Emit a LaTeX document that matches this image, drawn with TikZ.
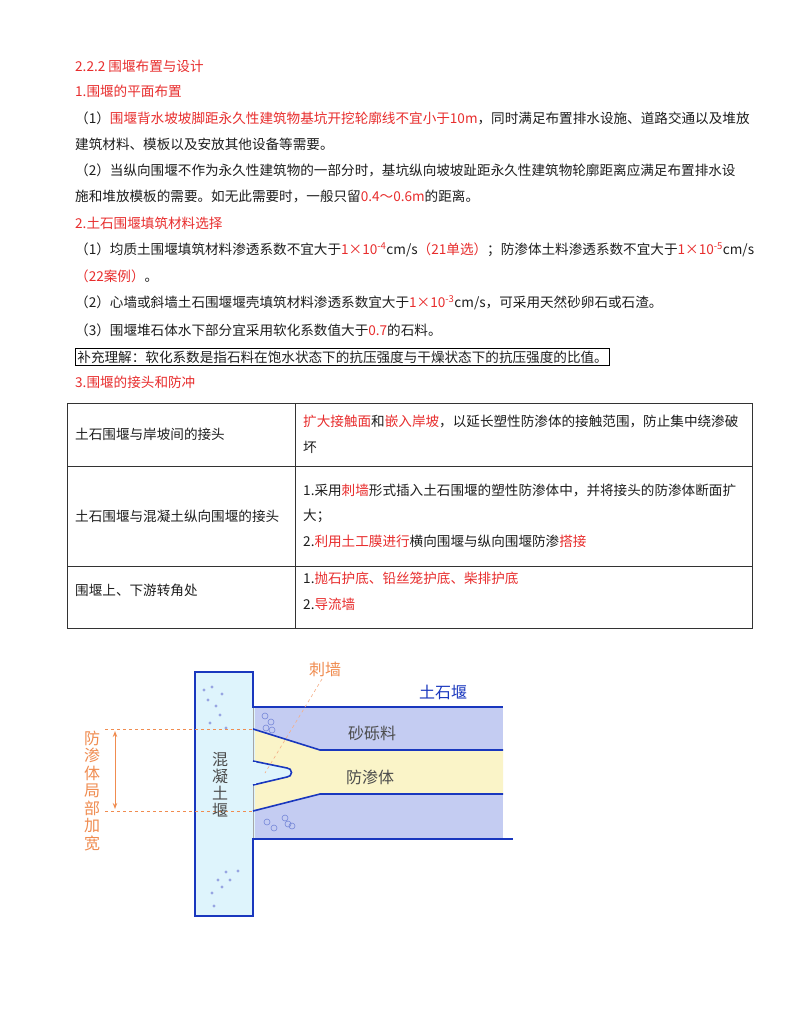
\documentclass[tikz,border=0pt]{standalone}
\usepackage{fontspec}
\setmainfont{Noto Sans CJK SC}
\usetikzlibrary{arrows.meta}
\definecolor{rd}{RGB}{232,45,45}
\definecolor{dblue}{RGB}{25,55,190}
\definecolor{sandc}{RGB}{196,204,242}
\definecolor{impc}{RGB}{250,244,200}
\definecolor{wallc}{RGB}{222,244,252}
\definecolor{orng}{RGB}{240,140,80}
\definecolor{txt}{RGB}{30,30,30}
\newcommand{\rr}[1]{\textcolor{rd}{#1}}
\begin{document}
\begin{tikzpicture}[x=1pt,y=-1pt,
  ln/.style={anchor=west,inner sep=0pt,font=\fontsize{13.6}{15}\selectfont,text=txt},
  cell/.style={anchor=west,inner sep=0pt,font=\fontsize{13.6}{15}\selectfont,text=txt},
  edge/.style={draw=dblue,line width=1.6pt},
  odash/.style={draw=orng,dashed,line width=0.6pt},
  bub/.style={draw=dblue!60,line width=0.6pt}]
\useasboundingbox (0,0) rectangle (800,1035);
\fill[white] (0,0) rectangle (800,1035);
% text
\node[ln] (t0) at (75,66) {\rr{2.2.2 围堰布置与设计}};
\node[ln] (t1) at (75,91) {\rr{1.围堰的平面布置}};
\node[ln] (t2) at (75,118) {（1）\rr{围堰背水坡坡脚距永久性建筑物基坑开挖轮廓线不宜小于10m}，同时满足布置排水设施、道路交通以及堆放};
\node[ln] (t3) at (75,144) {建筑材料、模板以及安放其他设备等需要。};
\node[ln] (t4) at (75,170) {（2）当纵向围堰不作为永久性建筑物的一部分时，基坑纵向坡坡趾距永久性建筑物轮廓距离应满足布置排水设};
\node[ln] (t5) at (75,196) {施和堆放模板的需要。如无此需要时，一般只留\rr{0.4～0.6m}的距离。};
\node[ln] (t6) at (75,223) {\rr{2.土石围堰填筑材料选择}};
\node[ln] (t7) at (75,250) {（1）均质土围堰填筑材料渗透系数不宜大于\rr{1×10\textsuperscript{-4}}cm/s\rr{（21单选）}；防渗体土料渗透系数不宜大于\rr{1×10\textsuperscript{-5}}cm/s};
\node[ln] (t8) at (75,276) {\rr{（22案例）}。};
\node[ln] (t9) at (75,303) {（2）心墙或斜墙土石围堰堰壳填筑材料渗透系数宜大于\rr{1×10\textsuperscript{-3}}cm/s，可采用天然砂卵石或石渣。};
\node[ln] (t10) at (75,330) {（3）围堰堆石体水下部分宜采用软化系数值大于\rr{0.7}的石料。};
\node[ln,draw=black,line width=0.8pt,inner sep=2pt] (t11) at (75,357) {补充理解：软化系数是指石料在饱水状态下的抗压强度与干燥状态下的抗压强度的比值。};
\node[ln] (t12) at (75,382) {\rr{3.围堰的接头和防冲}};
% table
\draw[line width=0.9pt,draw=black!80] (67,403) rectangle (752,628);
\draw[line width=0.9pt,draw=black!80] (67,466) -- (752,466) (67,566) -- (752,566) (295,403) -- (295,628);
\node[cell] (c1) at (75,434) {土石围堰与岸坡间的接头};
\node[cell] (c2) at (303,421) {\rr{扩大接触面}和\rr{嵌入岸坡}，以延长塑性防渗体的接触范围，防止集中绕渗破};
\node[cell] (c3) at (303,447) {坏};
\node[cell] (c4) at (75,516) {土石围堰与混凝土纵向围堰的接头};
\node[cell] (c5) at (303,490) {1.采用\rr{刺墙}形式插入土石围堰的塑性防渗体中，并将接头的防渗体断面扩};
\node[cell] (c6) at (303,516) {大；};
\node[cell] (c7) at (303,541) {2.\rr{利用土工膜进行}横向围堰与纵向围堰防渗\rr{搭接}};
\node[cell] (c8) at (75,590) {围堰上、下游转角处};
\node[cell] (c9) at (303,578) {1.\rr{抛石护底、铅丝笼护底、柴排护底}};
\node[cell] (c10) at (303,604) {2.\rr{导流墙}};
% diagram
\fill[sandc] (253,707) rectangle (503,839);
\fill[impc] (253,729) -- (320,750) -- (503,750) -- (503,794) -- (320,794) -- (253,811) -- cycle;
\node[draw=dblue,line width=1.6pt,fill=wallc,minimum width=58pt,minimum height=244pt,inner sep=0pt] (wall) at (224,794) {};
\fill[wallc] (252,708) rectangle (255,838);
\draw[black!35,line width=0.6pt] (253.5,708) -- (253.5,838);
\draw[edge] (wall.north east |- 0,707) -- (503,707);
\draw[edge] (wall.north east |- 0,839) -- (513,839);
\draw[edge] (253,729) -- (320,750) -- (503,750);
\draw[edge] (253,811) -- (320,794) -- (503,794);
\draw[edge,fill=wallc] (253,761) -- (287,768) arc (-90:90:4.5) -- (253,785);
\fill[wallc] (251,762) rectangle (256,784);
% bubbles
\foreach \p in {(265,716),(271,722),(266,728),(272,730),(267,822),(274,828),(285,818),(292,826),(288,824)}
  \draw[bub] \p circle (3);
\foreach \p in {(212,687),(222,694),(208,700),(220,715),(210,723),(226,728),(204,690),(216,706),(238,871),(230,880),(222,887),(212,893),(214,906),(226,872),(218,880)}
  \fill[dblue!45] \p circle (1.6);
% dims
\coordinate (d1) at (105,729); \coordinate (d2) at (105,811);
\draw[odash] (d1) -- (253,729);
\draw[odash] (d2) -- (253,811);
\coordinate (a1) at (115,731); \coordinate (a2) at (115,809);
\draw[orng,line width=0.8pt,{Stealth[length=6pt,open]}-{Stealth[length=6pt,open]}] (a1) -- (a2);
\node[text=orng,font=\fontsize{16}{17.5}\selectfont,align=center,inner sep=0pt] (vl) at (92,791) {防\\渗\\体\\局\\部\\加\\宽};
\node[text=orng,font=\fontsize{16}{18}\selectfont,inner sep=0pt] (cq) at (325,669) {刺墙};
\coordinate (cq0) at (322,679);
\coordinate (cq1) at (265,773);
\draw[orng!70,dashed,line width=0.6pt] (cq0) -- (cq1);
\node[text=dblue,font=\fontsize{16}{18}\selectfont,inner sep=0pt] (tsy) at (443,692) {土石堰};
\node[text=black!70,font=\fontsize{16}{18}\selectfont,inner sep=0pt] (sl) at (372,733) {砂砾料};
\node[text=black!70,font=\fontsize{16}{18}\selectfont,inner sep=0pt] (fs) at (370,777) {防渗体};
\node[text=black!70,font=\fontsize{16}{17}\selectfont,align=center,inner sep=0pt] (hn) at (220,785) {混\\凝\\土\\堰};
\end{tikzpicture}
\end{document}
